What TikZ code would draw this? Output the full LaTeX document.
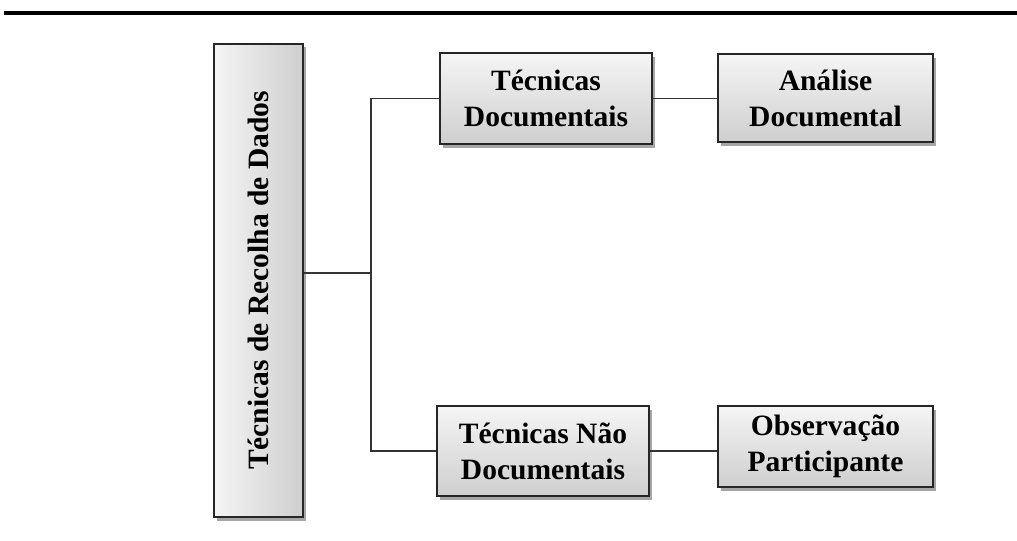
\documentclass[tikz,border=0pt]{standalone}
\usepackage{graphicx}
\usepackage{fontspec}
\setmainfont{Liberation Serif}
\usetikzlibrary{shadows}

\tikzset{
  boxstyle/.style={draw=black!85, line width=1pt, inner sep=0pt, align=center,
    top color=gray!8, bottom color=gray!38,
    drop shadow={shadow xshift=2pt, shadow yshift=-2.5pt, fill=black, opacity=0.35},
    font=\bfseries\fontsize{21}{25.5}\selectfont},
  tallbox/.style={boxstyle, left color=gray!8, right color=gray!38},
  linkline/.style={draw=black!80, line width=1pt}
}

\begin{document}
\begin{tikzpicture}[x=0.025cm, y=-0.025cm]

\useasboundingbox (0,0) rectangle (1017,540);

\draw[line width=3pt] (4,13) -- (1017,13);

\node (recolha) [tallbox, minimum width=2.225cm, minimum height=11.825cm] at (258.5, 280.5) {\rotatebox{90}{Técnicas de Recolha de Dados}};

\node (docs) [boxstyle, minimum width=5.3cm, minimum height=2.275cm] at (546, 98.5) {Técnicas\\Documentais};

\node (analise) [boxstyle, minimum width=5.375cm, minimum height=2.2cm] at (825.5, 98) {Análise\\Documental};

\node (naodocs) [boxstyle, minimum width=5.3cm, minimum height=2.25cm] at (543, 451) {Técnicas Não\\Documentais};

\node (obs) [boxstyle, minimum width=5.375cm, minimum height=2.025cm] at (825.5, 446.5) {Observação\\Participante};

\coordinate (fork) at (371, 273);

\draw[linkline] (recolha.east |- fork) -- (fork);
\draw[linkline] (docs.west) -| (fork) |- (naodocs.west);
\draw[linkline] (docs.east) -- (docs.east -| analise.west);
\draw[linkline] (naodocs.east) -- (naodocs.east -| obs.west);

\end{tikzpicture}
\end{document}
